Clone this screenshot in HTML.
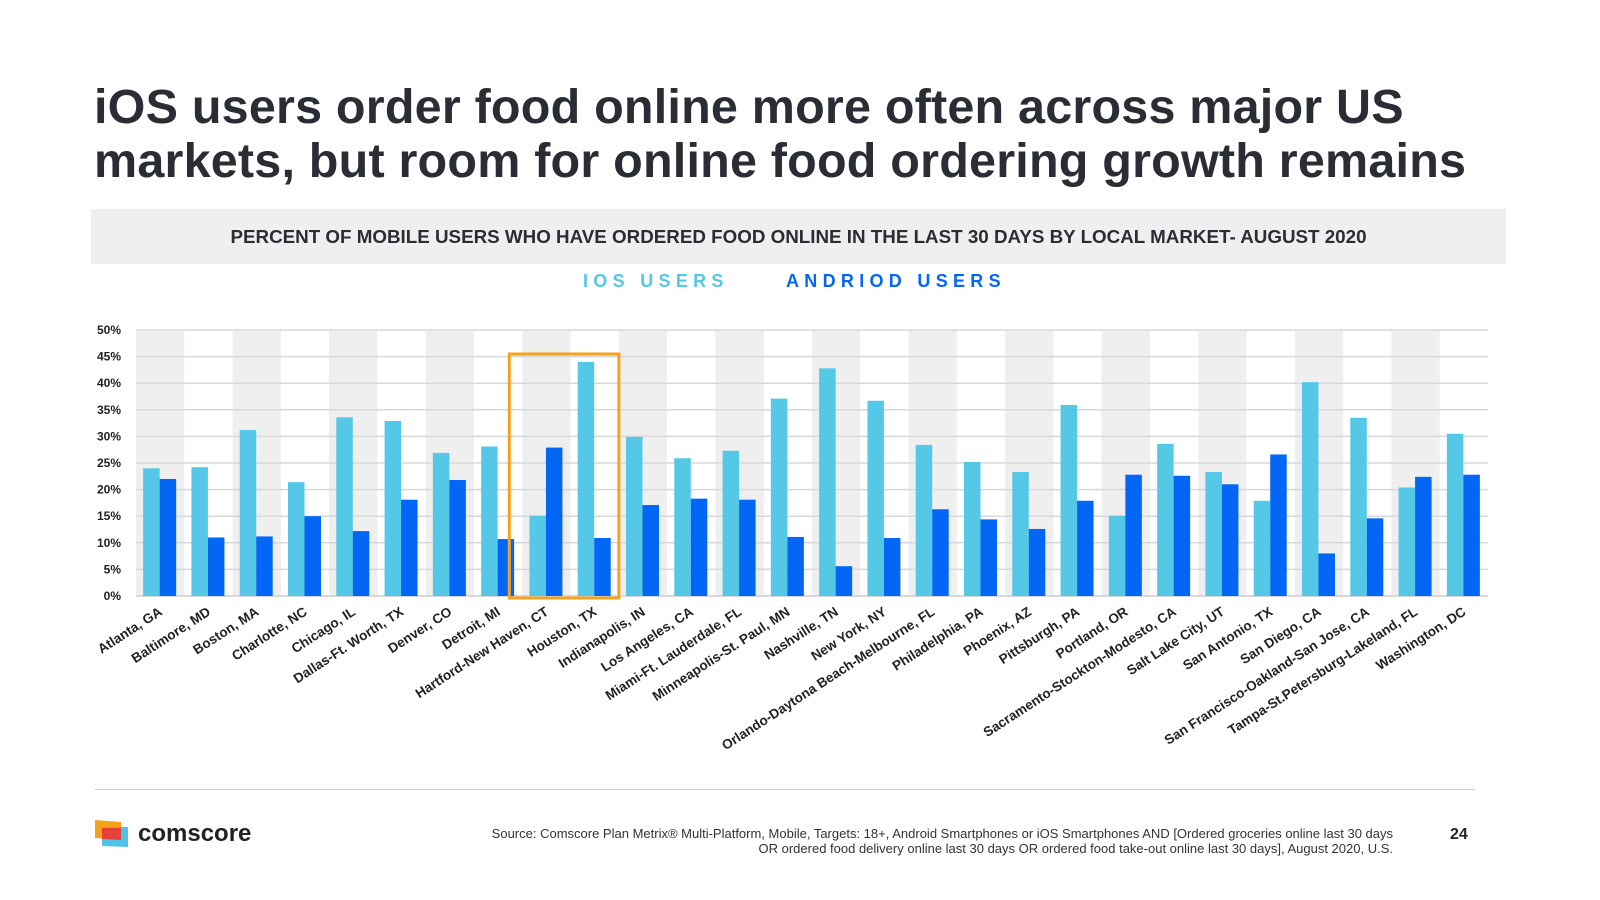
<!DOCTYPE html>
<html><head><meta charset="utf-8"><style>
body{margin:0;width:1600px;height:900px;background:#fff;font-family:"Liberation Sans",Arial,sans-serif;position:relative;overflow:hidden}
.title{position:absolute;left:94px;top:80px;font-size:48.5px;font-weight:bold;color:#2a2d34;line-height:54px;letter-spacing:0.2px}
.sub{position:absolute;left:91px;top:209px;width:1415px;height:55px;background:#efefef;text-align:center;line-height:55px;font-size:18.8px;font-weight:bold;color:#2a2d34}
.leg{position:absolute;top:271px;font-size:18px;font-weight:bold;letter-spacing:5.3px}
.foot{position:absolute;right:207px;top:826px;font-size:13px;color:#333;text-align:right;line-height:15px}
</style></head><body>
<div class="title">iOS users order food online more often across major US<br>markets, but room for online food ordering growth remains</div>
<div class="sub">PERCENT OF MOBILE USERS WHO HAVE ORDERED FOOD ONLINE IN THE LAST 30 DAYS BY LOCAL MARKET- AUGUST 2020</div>
<div class="leg" style="left:583px;color:#55c8e8">IOS USERS</div>
<div class="leg" style="left:786px;color:#0466f5">ANDRIOD USERS</div>
<svg id="chart" width="1600" height="900" style="position:absolute;left:0;top:0"></svg>
<div style="position:absolute;left:95px;top:789px;width:1380px;height:1px;background:#d0d0d0"></div>
<svg style="position:absolute;left:95px;top:820px" width="36" height="28">
<polygon points="0,0 26,2 26,20 0,18" fill="#f7a21b"/><polygon points="7,7 33,7 33,27 7,26" fill="#4fc3e6"/><polygon points="7,8 26,8 26,20 7,19" fill="#e4413a"/></svg>
<div style="position:absolute;left:138px;top:820px;font-size:24px;font-weight:bold;color:#222">comscore</div>
<div class="foot">Source: Comscore Plan Metrix® Multi-Platform, Mobile, Targets: 18+, Android Smartphones or iOS Smartphones AND [Ordered groceries online last 30 days<br>OR ordered food delivery online last 30 days OR ordered food take-out online last 30 days], August 2020, U.S.</div>
<div style="position:absolute;left:1450px;top:826px;font-size:16px;font-weight:bold;color:#222">24</div>
<script>
const categories=["Atlanta, GA","Baltimore, MD","Boston, MA","Charlotte, NC","Chicago, IL","Dallas-Ft. Worth, TX","Denver, CO","Detroit, MI","Hartford-New Haven, CT","Houston, TX","Indianapolis, IN","Los Angeles, CA","Miami-Ft. Lauderdale, FL","Minneapolis-St. Paul, MN","Nashville, TN","New York, NY","Orlando-Daytona Beach-Melbourne, FL","Philadelphia, PA","Phoenix, AZ","Pittsburgh, PA","Portland, OR","Sacramento-Stockton-Modesto, CA","Salt Lake City, UT","San Antonio, TX","San Diego, CA","San Francisco-Oakland-San Jose, CA","Tampa-St.Petersburg-Lakeland, FL","Washington, DC"];
const iosValues=[24,24.2,31.2,21.4,33.6,32.9,26.9,28.1,15.1,44,29.9,25.9,27.3,37.1,42.8,36.7,28.4,25.2,23.3,35.9,15.1,28.6,23.3,17.9,40.2,33.5,20.4,30.5];
const androidValues=[22,11,11.2,15,12.2,18.1,21.8,10.7,27.9,10.9,17.1,18.3,18.1,11.1,5.6,10.9,16.3,14.4,12.6,17.9,22.8,22.6,21,26.6,8,14.6,22.4,22.8];
const yTicks=[0,5,10,15,20,25,30,35,40,45,50];
const svg=document.getElementById('chart');const NS='http://www.w3.org/2000/svg';
const x0=136,x1=1488,y0=596,yTop=330,band=(x1-x0)/categories.length;
const y=v=>y0-(v/50)*(y0-yTop);
function mk(t,a){const e=document.createElementNS(NS,t);for(const k in a)e.setAttribute(k,a[k]);svg.appendChild(e);return e;}
categories.forEach((c,i)=>{if(i%2==0){const r=mk('rect',{x:x0+i*band,y:yTop,width:band,height:y0-yTop,fill:'#efeff0'});

}});
yTicks.forEach(t=>{const l=mk('line',{x1:x0,x2:x1,y1:y(t),y2:y(t),stroke:'#d8d8dc','stroke-width':t==0?2:1.5});


const tx=mk('text',{x:121,y:y(t)+4,'text-anchor':'end','font-size':12,'font-weight':'bold',fill:'#222'});tx.textContent=t+'%';

});
categories.forEach((c,i)=>{const cx=x0+i*band+band/2,bw=16.5;
const a=mk('rect',{x:cx-bw-0.5,y:y(iosValues[i]),width:bw,height:y0-y(iosValues[i]),fill:'#55c8e8'});


const b=mk('rect',{x:cx-0.5,y:y(androidValues[i]),width:bw,height:y0-y(androidValues[i]),fill:'#0466f5'});


const t=mk('text',{x:cx+3,y:614,'text-anchor':'end','font-size':13.5,'font-weight':'bold',fill:'#222',transform:`rotate(-33 ${cx+3} 614)`});t.textContent=c;

});
const hl=mk('rect',{x:x0+8*band-13,y:354,width:2*band+13,height:244,fill:'none',stroke:'#f7a21b','stroke-width':3});


</script>
</body></html>
